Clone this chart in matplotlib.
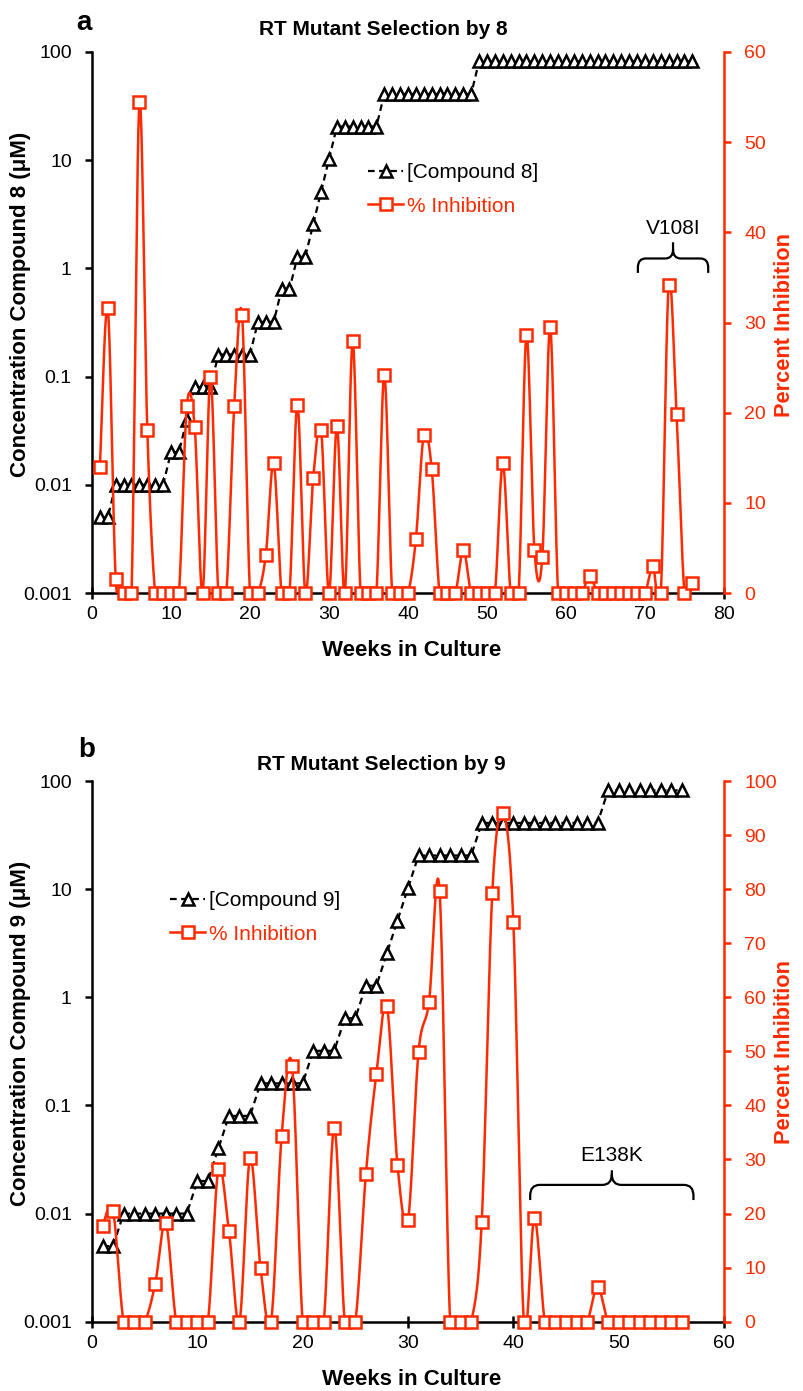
import numpy as np
import matplotlib
matplotlib.use("Agg")
import matplotlib.pyplot as plt
from matplotlib.path import Path
from matplotlib.patches import PathPatch

plt.rcParams['font.family'] = ['Liberation Sans', 'DejaVu Sans']

# ---------------- data ----------------
weeks_a = np.arange(1, 77)
conc_a = [0.005, 0.005,
          0.01, 0.01, 0.01, 0.01, 0.01, 0.01, 0.01,
          0.02, 0.02,
          0.04,
          0.08, 0.08, 0.08,
          0.16, 0.16, 0.16, 0.16, 0.16,
          0.32, 0.32, 0.32,
          0.64, 0.64,
          1.28, 1.28,
          2.56,
          5.12,
          10.24,
          20.48, 20.48, 20.48, 20.48, 20.48, 20.48,
          40.96, 40.96, 40.96, 40.96, 40.96, 40.96,
          40.96, 40.96, 40.96, 40.96, 40.96, 40.96,
          81.92, 81.92, 81.92, 81.92, 81.92, 81.92, 81.92,
          81.92, 81.92, 81.92, 81.92, 81.92, 81.92, 81.92,
          81.92, 81.92, 81.92, 81.92, 81.92, 81.92, 81.92,
          81.92, 81.92, 81.92, 81.92, 81.92, 81.92, 81.92]
inhib_a = [14.0, 31.6, 1.6, 0, 0, 54.4, 18.1, 0, 0, 0,
           0, 20.7, 18.4, 0, 24.0, 0, 0, 20.7, 30.8, 0,
           0, 4.2, 14.4, 0, 0, 20.9, 0, 12.8, 18.1, 0,
           18.5, 0, 27.9, 0, 0, 0, 24.2, 0, 0, 0,
           6.0, 17.5, 13.8, 0, 0, 0, 4.8, 0, 0, 0,
           0, 14.4, 0, 0, 28.6, 4.8, 4.0, 29.5, 0, 0,
           0, 0, 1.9, 0, 0, 0, 0, 0, 0, 0,
           3.0, 0, 34.2, 19.8, 0, 1.1]

weeks_b = np.arange(1, 57)
conc_b = [0.005, 0.005,
          0.01, 0.01, 0.01, 0.01, 0.01, 0.01, 0.01,
          0.02, 0.02,
          0.04,
          0.08, 0.08, 0.08,
          0.16, 0.16, 0.16, 0.16, 0.16,
          0.32, 0.32, 0.32,
          0.64, 0.64,
          1.28, 1.28,
          2.56,
          5.12,
          10.24,
          20.48, 20.48, 20.48, 20.48, 20.48, 20.48,
          40.96, 40.96, 40.96, 40.96, 40.96, 40.96,
          40.96, 40.96, 40.96, 40.96, 40.96, 40.96,
          81.92, 81.92, 81.92, 81.92, 81.92, 81.92, 81.92, 81.92]
inhib_b = [17.7, 20.5, 0, 0, 0, 7.0, 18.3, 0, 0, 0,
           0, 28.2, 16.8, 0, 30.2, 9.9, 0, 34.3, 47.2, 0,
           0, 0, 35.8, 0, 0, 27.3, 45.9, 58.3, 29.0, 18.8,
           49.9, 59.2, 79.7, 0, 0, 0, 18.5, 79.2, 94.0, 74.0,
           0, 19.2, 0, 0, 0, 0, 0, 6.5, 0, 0,
           0, 0, 0, 0, 0, 0]

conc_ticks = [0.001, 0.01, 0.1, 1, 10, 100]
conc_ticklabels = ['0.001', '0.01', '0.1', '1', '10', '100']

RED = '#ff2a00'
W, H = 804, 1391


def fx(px):
    return px / W


def fy(py):
    return 1 - py / H


def smooth_curve(x, y, n=24):
    """Piecewise cubic Bezier through the points (Catmull-Rom tangents)."""
    P = np.column_stack([x, y]).astype(float)
    P = np.vstack([P[0], P, P[-1]])
    t = np.linspace(0, 1, n, endpoint=False)[:, None]
    segs = []
    for i in range(1, len(P) - 2):
        p0, p1, p2, p3 = P[i - 1], P[i], P[i + 1], P[i + 2]
        c1 = p1 + (p2 - p0) / 6.0
        c2 = p2 - (p3 - p1) / 6.0
        b = ((1 - t) ** 3) * p1 + 3 * ((1 - t) ** 2) * t * c1 \
            + 3 * (1 - t) * t ** 2 * c2 + t ** 3 * p2
        segs.append(b)
    segs.append(P[-2][None, :])
    s = np.vstack(segs)
    return s[:, 0], s[:, 1]


def brace(ax, x0, x1, y_end, y_bar, y_tip, rx, ry):
    xm = 0.5 * (x0 + x1)
    verts = [(x0, y_end), (x0, y_bar - ry), (x0, y_bar), (x0 + rx, y_bar),
             (xm - rx, y_bar), (xm, y_bar), (xm, y_bar + ry),
             (xm, y_tip),
             (xm, y_bar + ry), (xm, y_bar), (xm + rx, y_bar),
             (x1 - rx, y_bar), (x1, y_bar), (x1, y_bar - ry), (x1, y_end)]
    codes = [Path.MOVETO, Path.LINETO, Path.CURVE3, Path.CURVE3,
             Path.LINETO, Path.CURVE3, Path.CURVE3,
             Path.LINETO,
             Path.MOVETO, Path.CURVE3, Path.CURVE3,
             Path.LINETO, Path.CURVE3, Path.CURVE3, Path.LINETO]
    ax.add_patch(PathPatch(Path(verts, codes), fill=False, edgecolor='black',
                           lw=1.6, capstyle='butt', clip_on=False))


def panel(rect, weeks, conc, inhib, xmax, rmax, rstep, cname,
          leg_xy, title, title_xy, letter, letter_xy,
          ylab_xy, rlab_xy, xlab_xy):
    ax = fig.add_axes(rect)
    ax.set_yscale('log')
    ax.set_ylim(0.001, 100)
    ax.set_xlim(0, xmax)
    ax.set_yticks(conc_ticks)
    ax.set_yticklabels(conc_ticklabels)
    ax.minorticks_off()
    ax.set_xticks(np.arange(0, xmax + 1, 10))
    for s in ['top', 'right']:
        ax.spines[s].set_visible(False)
    for s in ['left', 'bottom']:
        ax.spines[s].set_linewidth(1.8)
    ax.tick_params(axis='y', direction='out', length=5, width=1.8,
                   pad=9.5, labelsize=14)
    ax.tick_params(axis='x', direction='inout', length=8, width=1.8,
                   pad=5.5, labelsize=14)

    l1, = ax.plot(weeks, conc, color='black', lw=1.6, ls=(0, (3, 2)),
                  marker='^', ms=8, mfc='white', mec='black', mew=1.8,
                  label=f'[Compound {cname}]', clip_on=False)

    ax2 = ax.twinx()
    ax2.set_xlim(0, xmax)
    ax2.set_ylim(0, rmax)
    ax2.set_yticks(np.arange(0, rmax + 1, rstep))
    for s in ['top', 'left', 'bottom']:
        ax2.spines[s].set_visible(False)
    ax2.spines['right'].set_color(RED)
    ax2.spines['right'].set_linewidth(1.8)
    ax2.tick_params(axis='y', direction='out', length=5, width=1.8,
                    pad=9.5, labelsize=14, colors=RED)

    sx, sy = smooth_curve(weeks, inhib)
    ax2.plot(sx, sy, color=RED, lw=1.8, solid_joinstyle='round')
    ax2.plot(weeks, inhib, ls='none', marker='s', ms=8, mfc='white',
             mec=RED, mew=1.8, clip_on=False)
    l2, = ax2.plot([], [], color=RED, lw=1.8, marker='s', ms=8,
                   mfc='white', mec=RED, mew=1.8, label='% Inhibition')

    leg = ax2.legend(handles=[l1, l2], loc='upper left',
                     bbox_to_anchor=(fx(leg_xy[0]), fy(leg_xy[1])),
                     bbox_transform=fig.transFigure, frameon=False,
                     fontsize=15, handlelength=1.7, handletextpad=0.15,
                     labelspacing=0.7, borderpad=0, borderaxespad=0,
                     numpoints=1)
    for txt, c in zip(leg.get_texts(), ['black', RED]):
        txt.set_color(c)

    fig.text(fx(title_xy[0]), fy(title_xy[1]), title, ha='center',
             va='baseline', fontsize=15, fontweight='bold')
    fig.text(fx(letter_xy[0]), fy(letter_xy[1]), letter, ha='left',
             va='baseline', fontsize=20, fontweight='bold')
    fig.text(fx(ylab_xy[0]), fy(ylab_xy[1]),
             f'Concentration Compound {cname} (\u03bcM)', rotation=90,
             ha='center', va='center', fontsize=16, fontweight='bold')
    fig.text(fx(rlab_xy[0]), fy(rlab_xy[1]), 'Percent Inhibition',
             rotation=90, ha='center', va='center', fontsize=15.7,
             fontweight='bold', color=RED)
    fig.text(fx(xlab_xy[0]), fy(xlab_xy[1]), 'Weeks in Culture',
             ha='center', va='baseline', fontsize=16, fontweight='bold')
    return ax, ax2


fig = plt.figure(figsize=(8.04, 13.91), dpi=100)

axA, axA2 = panel([fx(92), fy(593), (724 - 92) / W, (593 - 52) / H],
                  weeks_a, conc_a, inhib_a, 80, 60, 10, '8',
                  (368, 163), 'RT Mutant Selection by 8', (383, 35),
                  'a', (76, 30), (21, 304), (785, 325), (412, 656))
brace(axA2, 69.1, 78.0, 35.5, 37.1, 38.9, 1.0, 1.0)
axA2.text(73.55, 40.4, 'V108I', ha='center', va='center', fontsize=15)

axB, axB2 = panel([fx(92), fy(1321.7), (724 - 92) / W, (1321.7 - 781) / H],
                  weeks_b, conc_b, inhib_b, 60, 100, 10, '9',
                  (170, 891), 'RT Mutant Selection by 9', (381, 770),
                  'b', (78, 757), (21, 1033), (785, 1052), (412, 1385))
brace(axB2, 41.6, 57.1, 22.5, 25.3, 28.0, 0.9, 2.0)
axB2.text(49.35, 30.8, 'E138K', ha='center', va='center', fontsize=15)

fig.savefig('out.png', dpi=100)
